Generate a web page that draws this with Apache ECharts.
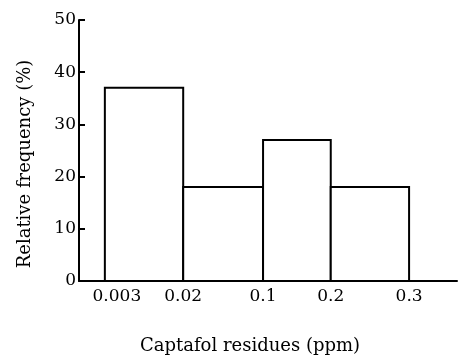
<!DOCTYPE html>
<html>
<head>
<meta charset="utf-8">
<script src="https://cdn.jsdelivr.net/npm/echarts@6/dist/echarts.min.js"></script>
<style>
  html, body { margin: 0; padding: 0; background: #fff; }
  #chart { width: 458px; height: 360px; }
</style>
</head>
<body>
<div id="chart"></div>
<script>
// class edges (position along the axis, in bin units) and their labels
const edgePos = [0, 1.03, 2.08, 2.97, 4.0];
const edgeLabels = ['0.003', '0.02', '0.1', '0.2', '0.3'];
// relative frequency (%) of each class
const freq = [37, 18, 27, 18];
const yTicks = [0, 10, 20, 30, 40, 50];

const bins = freq.map((v, i) => [edgePos[i], edgePos[i + 1], v]);

const font = 'DejaVu Serif';
const myChart = echarts.init(document.getElementById('chart'));

const option = {
    animation: false,
    backgroundColor: '#fff',
    grid: { left: 79, right: 1, top: 20, bottom: 73 },
    xAxis: {
        type: 'value',
        min: -0.34,
        max: 4.63,
        splitLine: { show: false },
        axisLine: { lineStyle: { color: '#000', width: 2 } },
        axisTick: { show: false },
        axisLabel: {
            customValues: edgePos,
            margin: 7,
            color: '#000',
            fontFamily: font,
            fontSize: 17,
            formatter: (val) => {
                const i = edgePos.indexOf(val);
                if (i === 0) return '{first|' + edgeLabels[0] + '}';
                return i >= 0 ? edgeLabels[i] : '';
            },
            rich: {
                first: { padding: [0, 0, 0, 24], fontFamily: font, fontSize: 17, color: '#000' }
            }
        },
        name: 'Captafol residues (ppm)',
        nameLocation: 'middle',
        nameGap: 56,
        nameTextStyle: { color: '#000', fontFamily: font, fontSize: 18, padding: [0, 36, 0, 0] }
    },
    yAxis: {
        type: 'value',
        min: yTicks[0],
        max: yTicks[yTicks.length - 1],
        interval: 10,
        splitLine: { show: false },
        axisLine: { show: true, onZero: false, lineStyle: { color: '#000', width: 2 } },
        axisTick: { show: true, inside: true, length: 6, lineStyle: { color: '#000', width: 2 } },
        axisLabel: { color: '#000', fontFamily: font, fontSize: 17, margin: 3 },
        name: 'Relative frequency (%)',
        nameLocation: 'middle',
        nameGap: 45,
        nameTextStyle: { color: '#000', fontFamily: font, fontSize: 18, padding: [0, 27, 0, 0] }
    },
    series: [{
        type: 'custom',
        data: bins,
        encode: { x: [0, 1], y: 2 },
        renderItem: (params, api) => {
            const p0 = api.coord([api.value(0), api.value(2)]);
            const p1 = api.coord([api.value(1), 0]);
            return {
                type: 'rect',
                shape: { x: p0[0], y: p0[1], width: p1[0] - p0[0], height: p1[1] - p0[1] },
                style: { fill: '#fff', stroke: '#000', lineWidth: 2 }
            };
        }
    }]
};
myChart.setOption(option);
</script>
</body>
</html>
